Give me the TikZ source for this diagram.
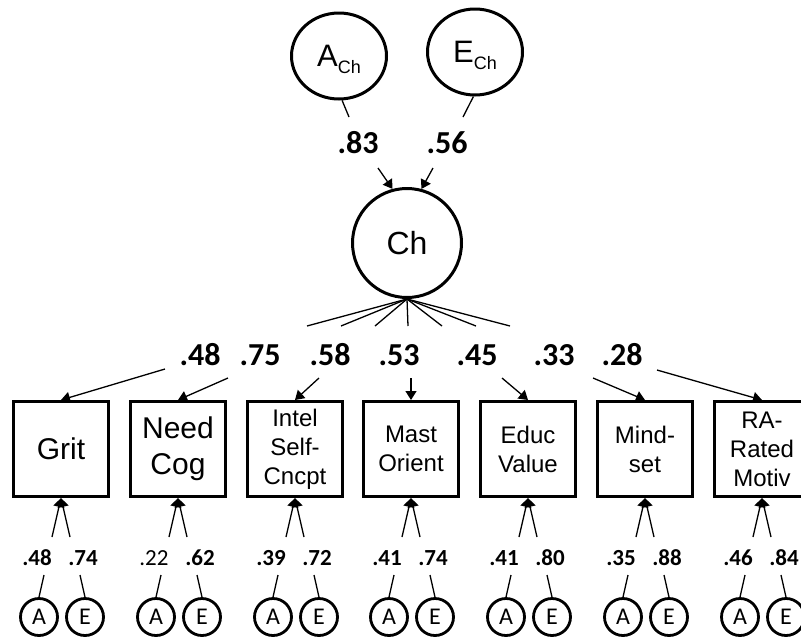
\documentclass[tikz,border=0pt]{standalone}
\usepackage{fontspec}
\setmainfont{Liberation Sans}
\newfontfamily\calib{Carlito}
\usetikzlibrary{arrows.meta,shapes.geometric}
\begin{document}
\begin{tikzpicture}[x=1pt,y=-1pt,
  conn/.style={line width=1.3pt},
  arr/.style={line width=1.3pt,-{Triangle[length=9pt,width=11pt]}},
  bigc/.style={draw,ellipse,line width=3pt,minimum width=95pt,minimum height=86pt,inner sep=0pt,font=\fontsize{31}{36}\selectfont},
  chc/.style={draw,circle,line width=3pt,minimum size=109pt,inner sep=0pt,font=\fontsize{32}{38}\selectfont},
  mbox/.style={draw,rectangle,line width=3pt,minimum width=95pt,minimum height=95pt,inner sep=0pt,align=center},
  bigtxt/.style={font=\fontsize{30}{36}\selectfont},
  smtxt/.style={font=\fontsize{24}{29}\selectfont},
  lab/.style={font=\calib\bfseries\fontsize{32}{32}\selectfont,inner sep=0pt},
  slab/.style={font=\calib\fontsize{23}{23}\selectfont,inner sep=0pt},
  sc/.style={draw,circle,line width=2.8pt,minimum size=37pt,inner sep=0pt,font=\calib\fontsize{24}{24}\selectfont}
]
\useasboundingbox (0,0) rectangle (801,638);
\fill[white] (0,0) rectangle (801,638);

% top latent variables
\node[bigc] (ACh) at (339,56) {A\raisebox{-7pt}[0pt][0pt]{\fontsize{18}{18}\selectfont Ch}};
\node[bigc] (ECh) at (475,52) {E\raisebox{-7pt}[0pt][0pt]{\fontsize{18}{18}\selectfont Ch}};
\node[lab] (l83) at (358,143) {.83};
\node[lab] (l56) at (447,143) {.56};
\node[chc] (Ch) at (407,243) {Ch};

\coordinate (a1) at (349,117);
\coordinate (e1) at (463,117);
\draw[conn] (ACh.-86) -- (a1);
\draw[conn] (ECh.-92) -- (e1);
\coordinate (a2) at (378,168);
\coordinate (e2) at (433,168);
\draw[arr] (a2) -- (Ch.105);
\draw[arr] (e2) -- (Ch.75);

% fan lines
\foreach \x in {307,341,375,408,442,476,510}{
  \coordinate (f\x) at (\x,326);
  \draw[conn] (Ch.south) -- (f\x);
}

% loadings labels
\foreach \x/\t in {200/.48,260/.75,330/.58,399/.53,477/.45,554/.33,622/.28}{
  \node[lab] at (\x,355) {\t};
}

% boxes
\foreach \i/\cx/\txt/\st/\al/\el/\sx/\sy in {
  1/61/{Grit}/bigtxt/{\bfseries .48}/{\bfseries .74}/165/369,
  2/178/{Need\\Cog}/bigtxt/{.22}/{\bfseries .62}/228/378,
  3/295/{Intel\\Self-\\Cncpt}/smtxt/{\bfseries .39}/{\bfseries .72}/319/378,
  4/411/{Mast\\Orient}/smtxt/{\bfseries .41}/{\bfseries .74}/411/378,
  5/528/{Educ\\Value}/smtxt/{\bfseries .41}/{\bfseries .80}/502/378,
  6/645/{Mind-\\set}/smtxt/{\bfseries .35}/{\bfseries .88}/593/378,
  7/762/{RA-\\Rated\\Motiv}/smtxt/{\bfseries .46}/{\bfseries .84}/657/370}{
  \node[mbox,\st] (b\i) at (\cx,449) {\txt};
  \coordinate (s\i) at (\sx,\sy);
  \draw[arr] (s\i) -- (b\i.north);
  \coordinate (pa\i) at (\cx-9,537);
  \coordinate (pe\i) at (\cx+9,537);
  \draw[arr] (pa\i) -- (b\i.south);
  \draw[arr] (pe\i) -- (b\i.south);
  \node[slab] (la\i) at (\cx-24,558) {\al};
  \node[slab] (le\i) at (\cx+22,558) {\el};
  \node[sc] (A\i) at (\cx-22,617) {A};
  \node[sc] (E\i) at (\cx+24,617) {E};
  \coordinate (qa\i) at (\cx-17,575);
  \coordinate (qe\i) at (\cx+19,575);
  \draw[conn] (qa\i) -- (A\i.north);
  \draw[conn] (qe\i) -- (E\i.north);
}
\end{tikzpicture}
\end{document}
